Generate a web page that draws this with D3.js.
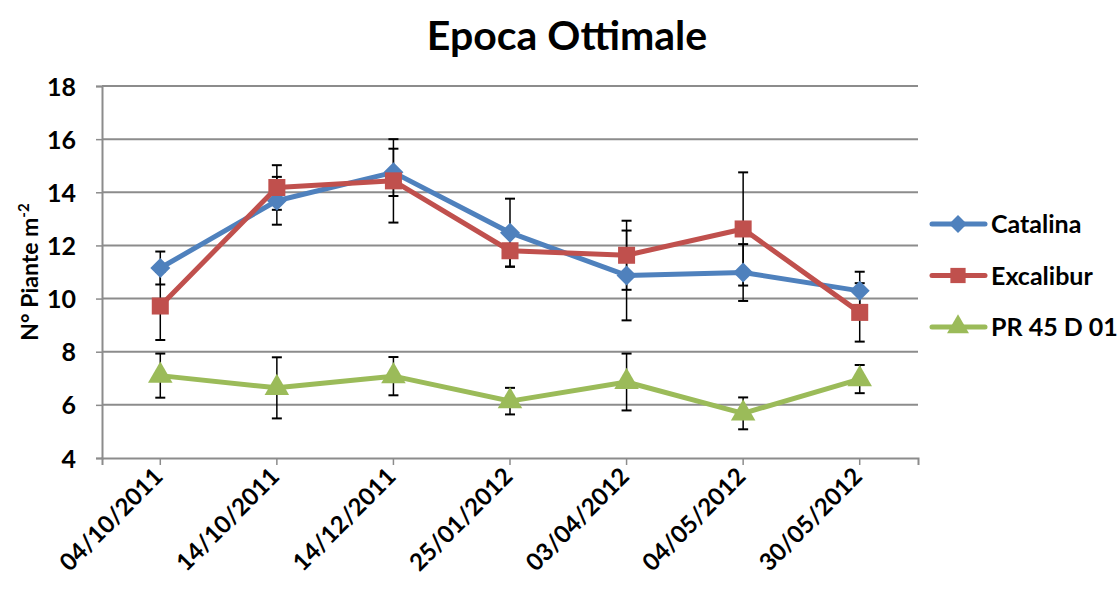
<!DOCTYPE html>
<html>
<head>
<meta charset="utf-8">
<script src="https://cdn.jsdelivr.net/npm/d3@7"></script>
<style>
  body { margin: 0; background: #fff; }
  text { font-family: Lato, "Open Sans", sans-serif; font-weight: bold; fill: #000; }
</style>
</head>
<body>
<svg id="chart" width="1117" height="589"></svg>
<script>
// data
let dates = ["04/10/2011", "14/10/2011", "14/12/2011", "25/01/2012", "03/04/2012", "04/05/2012", "30/05/2012"];
let catalina = [11.15, 13.68, 14.75, 12.48, 10.87, 10.98, 10.29];
let catalinaErr = [0.62, 0.9, 0.89, 1.28, 1.69, 1.07, 0.72];
let excalibur = [9.72, 14.18, 14.43, 11.8, 11.63, 12.62, 9.48];
let excaliburErr = [1.28, 0.84, 1.57, 0.6, 1.3, 2.13, 1.1];
let pr45 = [7.1, 6.64, 7.08, 6.14, 6.86, 5.68, 6.97];
let pr45Err = [0.83, 1.15, 0.72, 0.5, 1.07, 0.6, 0.53];
let yTicks = [4, 6, 8, 10, 12, 14, 16, 18];

// marker: d3 symbol type, size and rotation
let series = [
    {name: "Catalina", values: catalina, err: catalinaErr, color: "#4F81BD", symbol: d3.symbolSquare, size: 200, rot: 45},
    {name: "Excalibur", values: excalibur, err: excaliburErr, color: "#C0504D", symbol: d3.symbolSquare, size: 290, rot: 0},
    {name: "PR 45 D 01", values: pr45, err: pr45Err, color: "#9BBB59", symbol: d3.symbolTriangle, size: 260, rot: 0}
];

let svg = d3.select("#chart");
let plotLeft = 102, plotRight = 918, plotTop = 86, plotBottom = 458;

let x = d3.scaleBand().domain(dates).range([plotLeft, plotRight]);
let y = d3.scaleLinear().domain([4, 18]).range([plotBottom, plotTop]);
let cx = d => x(d) + x.bandwidth() / 2;

// title
svg.append("text")
    .attr("x", 567).attr("y", 50)
    .attr("text-anchor", "middle")
    .style("font-size", "41px")
    .text("Epoca Ottimale");

// grid lines
svg.append("g").selectAll("line").data(yTicks.slice(1)).enter().append("line")
    .attr("x1", plotLeft).attr("x2", plotRight)
    .attr("y1", d => y(d)).attr("y2", d => y(d))
    .attr("stroke", "#8c8c8c").attr("stroke-width", 2);

// y axis
let yAxis = d3.axisLeft(y).tickValues(yTicks).tickSize(6).tickPadding(20);
let gy = svg.append("g").attr("transform", "translate(" + plotLeft + ",0)").call(yAxis);
gy.select(".domain").attr("stroke", "#8c8c8c").attr("stroke-width", 2);
gy.selectAll(".tick line").attr("stroke", "#8c8c8c").attr("stroke-width", 1.5);
gy.selectAll(".tick text").style("font-size", "25px").attr("dy", "0.36em");

// x axis
let xAxis = d3.axisBottom(x).tickSize(7).tickSizeOuter(7).tickFormat("");
let gx = svg.append("g").attr("transform", "translate(0," + plotBottom + ")").call(xAxis);
gx.select(".domain").attr("stroke", "#8c8c8c").attr("stroke-width", 2);
gx.selectAll(".tick line").attr("stroke", "#8c8c8c").attr("stroke-width", 1.5);

svg.append("g").selectAll("text").data(dates).enter().append("text")
    .attr("transform", d => "translate(" + (cx(d) + 4) + "," + (plotBottom + 20) + ") rotate(-45)")
    .attr("text-anchor", "end")
    .style("font-size", "24px")
    .text(d => d);

// y axis title
let yTitle = svg.append("text")
    .attr("transform", "translate(38,272) rotate(-90)")
    .attr("text-anchor", "middle")
    .style("font-size", "23px");
yTitle.append("tspan").text("N° Piante m");
yTitle.append("tspan").attr("dy", "-9").style("font-size", "15px").text("-2");

// error bars
let capW = 5;
series.forEach(function (s) {
    let g = svg.append("g");
    dates.forEach(function (d, i) {
        let xx = cx(d), hi = y(s.values[i] + s.err[i]), lo = y(s.values[i] - s.err[i]);
        g.append("line").attr("x1", xx).attr("x2", xx).attr("y1", hi).attr("y2", lo)
            .attr("stroke", "#000").attr("stroke-width", 1.5);
        [hi, lo].forEach(function (yy) {
            g.append("line").attr("x1", xx - capW).attr("x2", xx + capW).attr("y1", yy).attr("y2", yy)
                .attr("stroke", "#000").attr("stroke-width", 2);
        });
    });
});

// lines and markers
let line = d3.line().x((d, i) => cx(dates[i])).y(d => y(d));
series.forEach(function (s) {
    svg.append("path").datum(s.values)
        .attr("d", line)
        .attr("fill", "none")
        .attr("stroke", s.color)
        .attr("stroke-width", 5)
        .attr("stroke-linejoin", "round");
    svg.append("g").selectAll("path").data(s.values).enter().append("path")
        .attr("transform", (d, i) => "translate(" + cx(dates[i]) + "," + y(d) + ") rotate(" + s.rot + ")")
        .attr("d", d3.symbol().type(s.symbol).size(s.size))
        .attr("fill", s.color);
});

// legend
let legend = svg.append("g");
series.forEach(function (s, i) {
    let ly = 224 + i * 51.5;
    legend.append("line").attr("x1", 932).attr("x2", 985).attr("y1", ly).attr("y2", ly)
        .attr("stroke", s.color).attr("stroke-width", 5).attr("stroke-linecap", "round");
    legend.append("path")
        .attr("transform", "translate(958," + ly + ") rotate(" + s.rot + ")")
        .attr("d", d3.symbol().type(s.symbol).size(s.size * 0.8))
        .attr("fill", s.color);
    legend.append("text").attr("x", 991).attr("y", ly).attr("dy", "0.36em")
        .style("font-size", "25px")
        .text(s.name);
});
</script>
</body>
</html>
